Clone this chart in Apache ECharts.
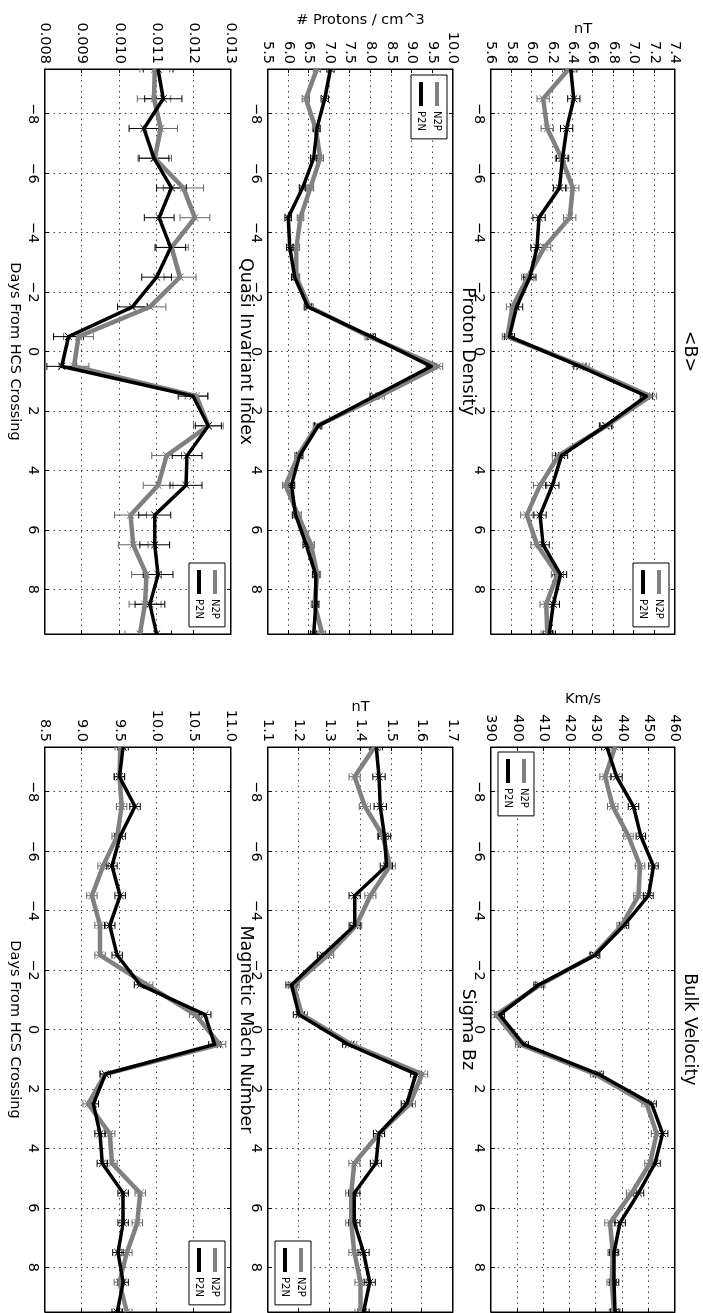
<!DOCTYPE html>
<html>
<head>
<meta charset="utf-8">
<script src="https://cdn.jsdelivr.net/npm/echarts@6/dist/echarts.min.js"></script>
<style>
html,body{margin:0;padding:0;background:#fff;overflow:hidden;width:703px;height:1313px;}
#chart{position:absolute;left:0;top:0;width:1313px;height:703px;transform-origin:0 0;transform:translate(703px,0) rotate(90deg);}
</style>
</head>
<body>
<div id="chart"></div>
<script>
// ---------- data ----------
const days = [-9.5,-8.5,-7.5,-6.5,-5.5,-4.5,-3.5,-2.5,-1.5,-0.5,0.5,1.5,2.5,3.5,4.5,5.5,6.5,7.5,8.5,9.5];
const xTicks = [-8,-6,-4,-2,0,2,4,6,8];

// <B>
const magB_N2P = [6.36,6.11,6.15,6.29,6.40,6.37,6.12,5.96,5.81,5.76,6.50,7.16,6.73,6.26,6.08,5.95,6.05,6.25,6.14,6.15];
const magB_P2N = [6.38,6.41,6.34,6.30,6.27,6.07,6.05,5.98,5.85,5.78,6.47,7.12,6.72,6.29,6.20,6.08,6.11,6.28,6.21,6.17];
const magB_errN2P = [0.06,0.06,0.06,0.06,0.06,0.06,0.065,0.06,0.06,0.05,0.06,0.06,0.06,0.06,0.065,0.06,0.06,0.06,0.06,0.06];
const magB_errP2N = [0.06,0.06,0.06,0.06,0.06,0.06,0.06,0.06,0.06,0.05,0.06,0.06,0.06,0.06,0.065,0.06,0.06,0.06,0.06,0.06];
const magB_yTicks = [5.6,5.8,6.0,6.2,6.4,6.6,6.8,7.0,7.2,7.4];

// Proton Density
const dens_N2P = [6.69,6.42,6.66,6.77,6.53,6.29,6.19,6.19,6.51,7.96,9.63,8.22,6.69,6.23,5.93,6.23,6.55,6.70,6.63,6.82];
const dens_P2N = [7.02,6.88,6.69,6.61,6.34,5.99,6.03,6.15,6.47,8.01,9.47,8.09,6.72,6.27,6.07,6.17,6.43,6.66,6.66,6.61];
const dens_errN2P = [0.09,0.09,0.08,0.08,0.08,0.08,0.08,0.08,0.09,0.1,0.12,0.11,0.09,0.08,0.08,0.08,0.08,0.08,0.08,0.08];
const dens_errP2N = [0.09,0.09,0.08,0.08,0.08,0.08,0.08,0.08,0.09,0.1,0.12,0.11,0.09,0.08,0.08,0.08,0.08,0.08,0.08,0.08];
const dens_yTicks = [5.5,6.0,6.5,7.0,7.5,8.0,8.5,9.0,9.5,10.0];

// Quasi Invariant Index
const qii_N2P = [0.01095,0.01093,0.01111,0.01095,0.01172,0.01203,0.01140,0.01163,0.01082,0.00890,0.00878,0.01207,0.01239,0.01127,0.01104,0.01030,0.01037,0.01073,0.01069,0.01055];
const qii_P2N = [0.01104,0.01118,0.01066,0.01093,0.01140,0.01107,0.01138,0.01100,0.01035,0.00863,0.00845,0.01198,0.01239,0.01182,0.01179,0.01095,0.01095,0.01104,0.01082,0.01100];
const qii_errN2P = [0.0004,0.00045,0.00045,0.00045,0.00054,0.0004,0.00045,0.00043,0.00043,0.0004,0.0004,0.0003,0.0004,0.0004,0.0004,0.00043,0.0004,0.0004,0.00043,0.0004];
const qii_errP2N = [0.0004,0.0005,0.0004,0.0004,0.0004,0.0004,0.0004,0.0004,0.0004,0.0004,0.0004,0.0004,0.00035,0.0004,0.00043,0.00043,0.0004,0.0004,0.0004,0.0004];
const qii_yTicks = [0.008,0.009,0.010,0.011,0.012,0.013];

// Bulk Velocity
const vel_N2P = [437.2,433.4,436.3,442.3,446.7,446.1,439.7,429.2,408.7,392.0,401.1,429.6,449.2,453.0,450.5,443.5,435.3,436.3,435.9,436.8];
const vel_P2N = [434.1,437.8,444.2,447.0,451.8,449.9,440.6,429.6,408.1,393.3,402.4,430.9,451.1,455.3,452.4,446.1,439.1,436.8,436.8,437.2];
const vel_errN2P = [2.0,2.0,2.0,1.8,1.8,1.8,1.8,1.8,1.8,1.8,1.8,1.8,1.8,2.0,2.0,2.0,2.0,1.8,1.8,1.8];
const vel_errP2N = [2.0,2.1,2.0,1.8,1.8,1.8,1.8,1.8,1.8,1.8,1.8,1.8,1.8,2.0,2.0,2.0,2.0,1.8,1.8,1.8];
const vel_yTicks = [390,400,410,420,430,440,450,460];

// Sigma Bz
const sbz_N2P = [1.446,1.381,1.414,1.473,1.495,1.432,1.386,1.295,1.183,1.21,1.37,1.60,1.56,1.46,1.38,1.37,1.37,1.38,1.40,1.40];
const sbz_P2N = [1.451,1.460,1.464,1.478,1.484,1.381,1.381,1.278,1.176,1.20,1.36,1.58,1.55,1.46,1.45,1.38,1.38,1.41,1.43,1.41];
const sbz_errN2P = [0.018,0.018,0.018,0.018,0.018,0.018,0.018,0.018,0.018,0.018,0.018,0.018,0.018,0.018,0.018,0.018,0.018,0.018,0.018,0.018];
const sbz_errP2N = [0.02,0.02,0.02,0.02,0.02,0.018,0.018,0.018,0.018,0.018,0.018,0.018,0.018,0.018,0.018,0.018,0.018,0.018,0.018,0.018];
const sbz_yTicks = [1.1,1.2,1.3,1.4,1.5,1.6,1.7];

// Magnetic Mach Number
const mach_N2P = [9.51,9.50,9.53,9.47,9.28,9.13,9.24,9.24,9.87,10.52,10.85,9.31,9.08,9.37,9.40,9.78,9.74,9.60,9.50,9.60];
const mach_P2N = [9.55,9.50,9.71,9.51,9.40,9.51,9.37,9.47,9.78,10.65,10.78,9.31,9.15,9.24,9.27,9.55,9.55,9.48,9.55,9.47];
const mach_errN2P = [0.07,0.07,0.07,0.07,0.07,0.07,0.07,0.07,0.08,0.08,0.08,0.07,0.07,0.07,0.07,0.07,0.07,0.07,0.07,0.07];
const mach_errP2N = [0.07,0.07,0.07,0.07,0.07,0.07,0.07,0.07,0.08,0.08,0.08,0.07,0.07,0.07,0.07,0.07,0.07,0.07,0.07,0.07];
const mach_yTicks = [8.5,9.0,9.5,10.0,10.5,11.0];

// ---------- layout ----------
const FONT = 'DejaVu Sans';
const GRAY = '#808080', BLACK = '#000000', GRAY_ERR = '#666666';
const panels = [
  {title:'<B>', unit:'nT', n2p:magB_N2P, p2n:magB_P2N, en:magB_errN2P, ep:magB_errP2N, ticks:magB_yTicks, dec:1, box:[69,28,565,184], gap:32, leg:[563,34], xname:false},
  {title:'Bulk Velocity', unit:'Km/s', n2p:vel_N2P, p2n:vel_P2N, en:vel_errN2P, ep:vel_errP2N, ticks:vel_yTicks, dec:0, box:[747,28,565,184], gap:40, leg:[752,169], xname:false},
  {title:'Proton Density', unit:'# Protons / cm^3', n2p:dens_N2P, p2n:dens_P2N, en:dens_errN2P, ep:dens_errP2N, ticks:dens_yTicks, dec:1, box:[69,250,565,185], gap:40, leg:[75,256], xname:false},
  {title:'Sigma Bz', unit:'nT', n2p:sbz_N2P, p2n:sbz_P2N, en:sbz_errN2P, ep:sbz_errP2N, ticks:sbz_yTicks, dec:1, box:[747,250,565,185], gap:32, leg:[1241,392], xname:false},
  {title:'Quasi Invariant Index', unit:'', n2p:qii_N2P, p2n:qii_P2N, en:qii_errN2P, ep:qii_errP2N, ticks:qii_yTicks, dec:3, box:[69,472,565,186], gap:40, leg:[563,478], xname:true},
  {title:'Magnetic Mach Number', unit:'', n2p:mach_N2P, p2n:mach_P2N, en:mach_errN2P, ep:mach_errP2N, ticks:mach_yTicks, dec:1, box:[747,472,565,186], gap:40, leg:[1241,478], xname:true}
];

function fmtX(v){ return v < 0 ? '\u2212' + (-v) : String(v); }

function makeErr(color){
  return function(params, api){
    const x = api.value(0), y = api.value(1), e = api.value(2);
    const c = api.coord([x, y]), lo = api.coord([x, y - e]), hi = api.coord([x, y + e]);
    const cap = 3.5, m = 3.5;
    const st = {stroke: color, lineWidth: 1, fill: null};
    return {type:'group', children:[
      {type:'line', shape:{x1:c[0], y1:lo[1], x2:c[0], y2:hi[1]}, style:st},
      {type:'line', shape:{x1:c[0]-cap, y1:lo[1], x2:c[0]+cap, y2:lo[1]}, style:st},
      {type:'line', shape:{x1:c[0]-cap, y1:hi[1], x2:c[0]+cap, y2:hi[1]}, style:st},
      {type:'line', shape:{x1:c[0]-m, y1:c[1]-m, x2:c[0]+m, y2:c[1]+m}, style:st},
      {type:'line', shape:{x1:c[0]-m, y1:c[1]+m, x2:c[0]+m, y2:c[1]-m}, style:st}
    ]};
  };
}

const option = {animation:false, backgroundColor:'#fff', title:[], legend:[], grid:[], xAxis:[], yAxis:[], series:[]};

panels.forEach(function(p, i){
  const l = p.box[0], t = p.box[1], w = p.box[2], h = p.box[3];
  const ymin = p.ticks[0], ymax = p.ticks[p.ticks.length-1];
  const step = +(p.ticks[1] - p.ticks[0]).toFixed(6);
  option.grid.push({left:l, top:t, width:w, height:h, show:true, borderColor:'#000', borderWidth:1, backgroundColor:'rgba(0,0,0,0)'});
  const splitStyle = {show:true, lineStyle:{color:'#444', width:1, type:[1.5,4]}};
  option.xAxis.push({
    gridIndex:i, type:'value', min:-9.5, max:9.5, splitNumber:10, position:'bottom',
    axisLine:{show:true, onZero:false, lineStyle:{color:'#000', width:1}},
    axisTick:{show:true, inside:true, length:4, customValues:xTicks, lineStyle:{color:'#000', width:1}},
    axisLabel:{show:true, customValues:xTicks, formatter:fmtX, margin:5, fontSize:14.5, fontFamily:FONT, color:'#000'},
    splitLine:splitStyle,
    name: p.xname ? 'Days From HCS Crossing' : '', nameLocation:'middle', nameGap:23,
    nameTextStyle:{fontSize:14.5, fontFamily:FONT, color:'#000'}
  });
  option.xAxis.push({
    gridIndex:i, type:'value', min:-9.5, max:9.5, splitNumber:10, position:'top',
    axisLine:{show:true, onZero:false, lineStyle:{color:'#000', width:1}},
    axisTick:{show:true, inside:true, length:4, customValues:xTicks, lineStyle:{color:'#000', width:1}},
    axisLabel:{show:false}, splitLine:{show:false}
  });
  option.yAxis.push({
    gridIndex:i, type:'value', min:ymin, max:ymax, interval:step, position:'left',
    axisLine:{show:true, onZero:false, lineStyle:{color:'#000', width:1}},
    axisTick:{show:true, inside:true, length:4, lineStyle:{color:'#000', width:1}},
    axisLabel:{show:true, margin:5, fontSize:14.5, fontFamily:FONT, color:'#000', formatter:function(v){return v.toFixed(p.dec);}},
    splitLine:splitStyle,
    name:p.unit, nameLocation:'middle', nameGap:p.gap,
    nameTextStyle:{fontSize:14.5, fontFamily:FONT, color:'#000'}
  });
  option.yAxis.push({
    gridIndex:i, type:'value', min:ymin, max:ymax, interval:step, position:'right',
    axisLine:{show:true, onZero:false, lineStyle:{color:'#000', width:1}},
    axisTick:{show:true, inside:true, length:4, lineStyle:{color:'#000', width:1}},
    axisLabel:{show:false}, splitLine:{show:false}
  });
  const xi = i*2, yi = i*2;
  option.series.push({type:'line', name:'N2P', xAxisIndex:xi, yAxisIndex:yi, data:days.map(function(d,k){return [d, p.n2p[k]];}),
    showSymbol:false, symbol:'none', lineStyle:{color:GRAY, width:4.5, join:'round'}, itemStyle:{color:GRAY}, silent:true, z:2});
  option.series.push({type:'custom', name:'N2P errors', xAxisIndex:xi, yAxisIndex:yi, data:days.map(function(d,k){return [d, p.n2p[k], p.en[k]];}),
    renderItem:makeErr(GRAY_ERR), clip:true, silent:true, z:2});
  option.series.push({type:'line', name:'P2N', xAxisIndex:xi, yAxisIndex:yi, data:days.map(function(d,k){return [d, p.p2n[k]];}),
    showSymbol:false, symbol:'none', lineStyle:{color:BLACK, width:3.5, join:'round'}, itemStyle:{color:BLACK}, silent:true, z:2});
  option.series.push({type:'custom', name:'P2N errors', xAxisIndex:xi, yAxisIndex:yi, data:days.map(function(d,k){return [d, p.p2n[k], p.ep[k]];}),
    renderItem:makeErr(BLACK), clip:true, silent:true, z:2});
  option.title.push({text:p.title, left:l + w/2, top:t - 24, textAlign:'center', padding:0,
    textStyle:{fontSize:17.5, fontWeight:'normal', fontFamily:FONT, color:'#000'}});
  option.legend.push({data:[{name:'N2P', icon:'rect'},{name:'P2N', icon:'rect'}], left:p.leg[0], top:p.leg[1], orient:'vertical',
    itemWidth:24, itemHeight:4, itemGap:6, padding:[5,8,5,7], borderColor:'#000', borderWidth:1, borderRadius:0, backgroundColor:'#fff',
    selectedMode:false, textStyle:{fontSize:10, fontFamily:FONT, color:'#000'}, z:10});
});

const chart = echarts.init(document.getElementById('chart'), null, {renderer:'canvas'});
chart.setOption(option);
</script>
</body>
</html>
